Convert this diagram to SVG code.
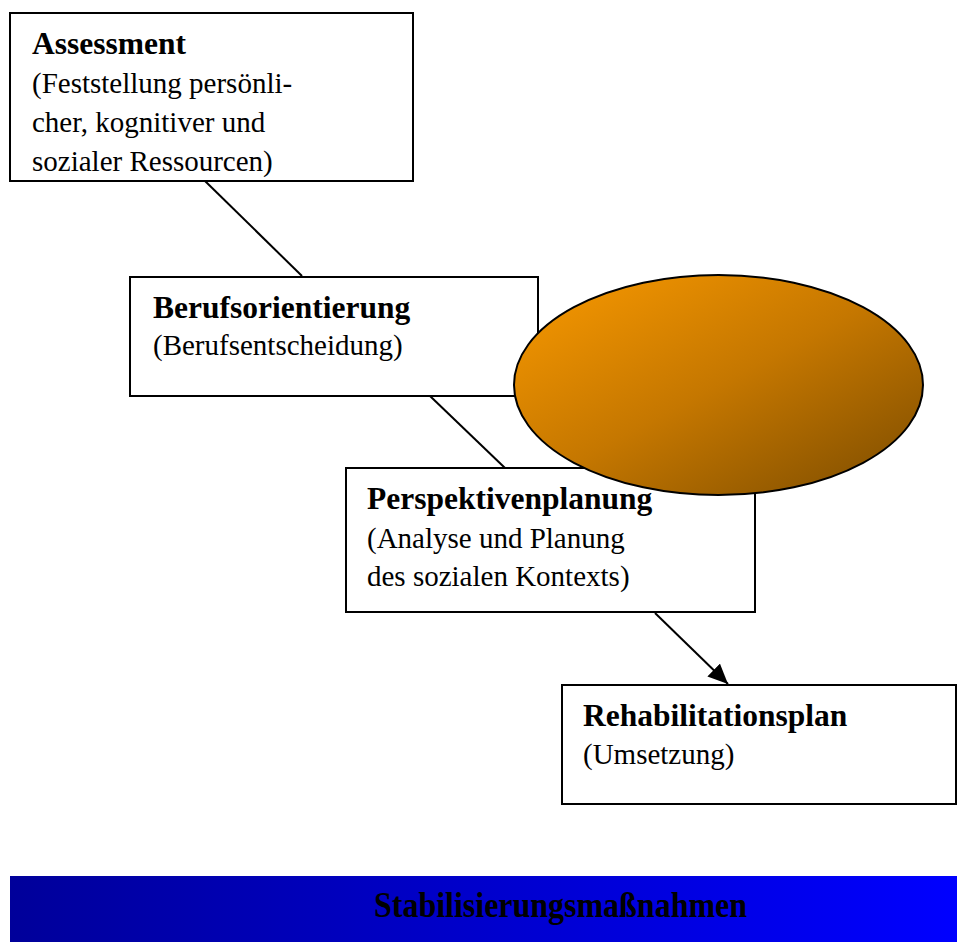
<svg xmlns="http://www.w3.org/2000/svg" width="957" height="942" viewBox="0 0 957 942">
<style>
.box{fill:#fff;stroke:#000;stroke-width:2}
.t{font-family:"Liberation Serif","Times New Roman",serif;font-size:29px;fill:#000}
.b{font-weight:bold;font-size:31.5px}
.con{stroke:#000;stroke-width:2;fill:none}
</style>
<defs>
<linearGradient id="og" x1="0" y1="0" x2="1" y2="1">
<stop offset="0" stop-color="#FA9A00"/>
<stop offset="0.5" stop-color="#C57700"/>
<stop offset="1" stop-color="#7A4B00"/>
</linearGradient>
<linearGradient id="bg" x1="0" y1="0" x2="1" y2="0">
<stop offset="0" stop-color="#00009A"/>
<stop offset="1" stop-color="#0000FF"/>
</linearGradient>
<marker id="ah2" markerWidth="20" markerHeight="18" refX="20" refY="9" orient="auto" markerUnits="userSpaceOnUse">
<path d="M0,0 L20,9 L0,18 z" fill="#000"/>
</marker>
</defs>
<g id="connectors">
<line class="con" x1="205" y1="181" x2="302" y2="276"/>
<line class="con" x1="430" y1="396" x2="505" y2="468"/>
<line class="con" x1="655" y1="613" x2="728" y2="684" marker-end="url(#ah2)"/>
</g>
<g id="assessment">
<rect class="box" x="10" y="13" width="403" height="168"/>
<text class="t b" x="32" y="54">Assessment</text>
<text class="t" x="32" y="93">(Feststellung persönli-</text>
<text class="t" x="32" y="132">cher, kognitiver und</text>
<text class="t" x="32" y="171">sozialer Ressourcen)</text>
</g>
<g id="berufsorientierung">
<rect class="box" x="130" y="277" width="408" height="119"/>
<text class="t b" x="153" y="318">Berufsorientierung</text>
<text class="t" x="153" y="355">(Berufsentscheidung)</text>
</g>
<g id="perspektivenplanung">
<rect class="box" x="346" y="468" width="409" height="144"/>
<text class="t b" x="367" y="509">Perspektivenplanung</text>
<text class="t" x="367" y="548">(Analyse und Planung</text>
<text class="t" x="367" y="586">des sozialen Kontexts)</text>
</g>
<g id="ellipse">
<ellipse cx="718.5" cy="385" rx="204.5" ry="110" fill="url(#og)" stroke="#000" stroke-width="2"/>
</g>
<g id="rehabilitationsplan">
<rect class="box" x="562" y="685" width="394" height="119"/>
<text class="t b" x="583" y="726">Rehabilitationsplan</text>
<text class="t" x="583" y="764">(Umsetzung)</text>
</g>
<g id="stabilisierung">
<rect x="10" y="876" width="947" height="66" fill="url(#bg)"/>
<text class="t b" x="374" y="917" font-size="36" style="font-size:36px" textLength="373" lengthAdjust="spacingAndGlyphs">Stabilisierungsmaßnahmen</text>
</g>
</svg>
